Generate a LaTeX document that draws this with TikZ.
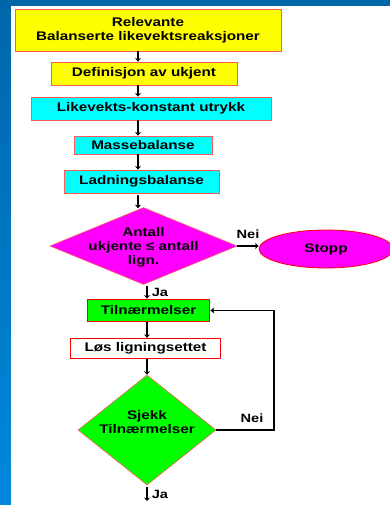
\documentclass[tikz,border=0pt]{standalone}
\usepackage{fontspec}
\setmainfont[FakeStretch=1.22]{Liberation Sans}
\usetikzlibrary{shapes.geometric,arrows.meta,calc}
\definecolor{bgblue}{RGB}{0,102,170}
\definecolor{bgblue2}{RGB}{0,136,221}
\definecolor{edgered}{RGB}{255,90,90}
\definecolor{pyellow}{RGB}{255,255,0}
\definecolor{pcyan}{RGB}{0,255,255}
\definecolor{pmagenta}{RGB}{255,0,255}
\definecolor{pgreen}{RGB}{0,255,0}
\definecolor{pred}{RGB}{255,0,0}
\tikzset{
  txt/.style={inner sep=0pt, align=center, font=\bfseries\fontsize{12.5}{14}\selectfont},
  box/.style={txt, draw=edgered, line width=0.8pt},
  yel/.style={box, fill=pyellow},
  cya/.style={box, fill=pcyan},
  dia/.style={shape=diamond, draw=edgered, line width=0.6pt, inner sep=0pt},
  arr/.style={line width=1.6pt, -{Stealth[length=3.5pt,width=6pt]}},
  lbl/.style={font=\bfseries\fontsize{12}{13}\selectfont, inner sep=0pt},
}
\begin{document}
\begin{tikzpicture}[x=1pt,y=-1pt]
\useasboundingbox (0,0) rectangle (390,505);
\shade[top color=bgblue, bottom color=bgblue2] (0,0) rectangle (390,505);
\fill[white] (11,6) rectangle (390,505);

\node[yel, minimum width=266pt, minimum height=42pt] (b1) at (148,30) {Relevante\\Balanserte likevektsreaksjoner};
\node[yel, minimum width=186pt, minimum height=23pt] (b2) at (144,73.5) {Definisjon av ukjent};
\node[cya, minimum width=240pt, minimum height=23pt] (b3) at (151,108.5) {Likevekts-konstant utrykk};
\node[cya, minimum width=138pt, minimum height=18pt] (b4) at (143,145) {Massebalanse};
\node[cya, minimum width=155pt, minimum height=23pt] (b5) at (141.5,181.5) {Ladningsbalanse};
\node[dia, fill=pmagenta, minimum width=187pt, minimum height=77pt] (d1) at (143.5,246) {};
\node[txt] (d1t) at (143.5,247) {Antall\\ukjente ≤ antall\\lign.};
\node[ellipse, draw=pred, line width=0.8pt, fill=pmagenta, minimum width=134pt, minimum height=38pt, txt] (stop) at (326,249) {Stopp};
\node[box, draw=pred, line width=1.8pt, fill=pgreen, minimum width=122pt, minimum height=22pt] (t) at (148.5,310.5) {Tilnærmelser};
\node[box, draw=pred, line width=1.3pt, fill=white, minimum width=150pt, minimum height=20pt] (l) at (145.5,348.5) {Løs ligningsettet};
\node[dia, fill=pgreen, minimum width=138pt, minimum height=110pt] (d2) at (147,430) {};
\node[txt] (d2t) at (147,422) {Sjekk\\Tilnærmelser};

\coordinate (xa) at (138,0);
\coordinate (xb) at (147,0);
\coordinate (end) at (147,501);
\coordinate (loopx) at (274,0);

\draw[arr] (b1.south -| xa) -- (b2.north -| xa);
\draw[arr] (b2.south -| xa) -- (b3.north -| xa);
\draw[arr] (b3.south -| xa) -- (b4.north -| xa);
\draw[arr] (b4.south -| xa) -- (b5.north -| xa);
\draw[arr] ($(b5.south -| xa)+(0,2)$) -- ($(d1.north -| xa)+(0,1)$);
\draw[arr] (d1.east) -- (d1.east -| stop.west) node[lbl, midway, above=7pt] {Nei};
\draw[arr] ($(d1.south -| xb)+(0,1)$) -- (t.north -| xb) node[lbl, midway, right=4pt] {Ja};
\draw[arr] (t.south -| xb) -- (l.north -| xb);
\draw[arr] (l.south -| xb) -- (d2.north -| xb);
\draw[arr] ($(d2.south -| xb)+(0,2)$) -- (end) node[lbl, midway, right=4pt] {Ja};
\draw[line width=1.6pt, -{Stealth[length=4pt,width=6pt]}] (d2.east) -- (d2.east -| loopx) -- (t.east -| loopx) -- (t.east);
\node[lbl] (nei2) at (252,418) {Nei};
\end{tikzpicture}
\end{document}
